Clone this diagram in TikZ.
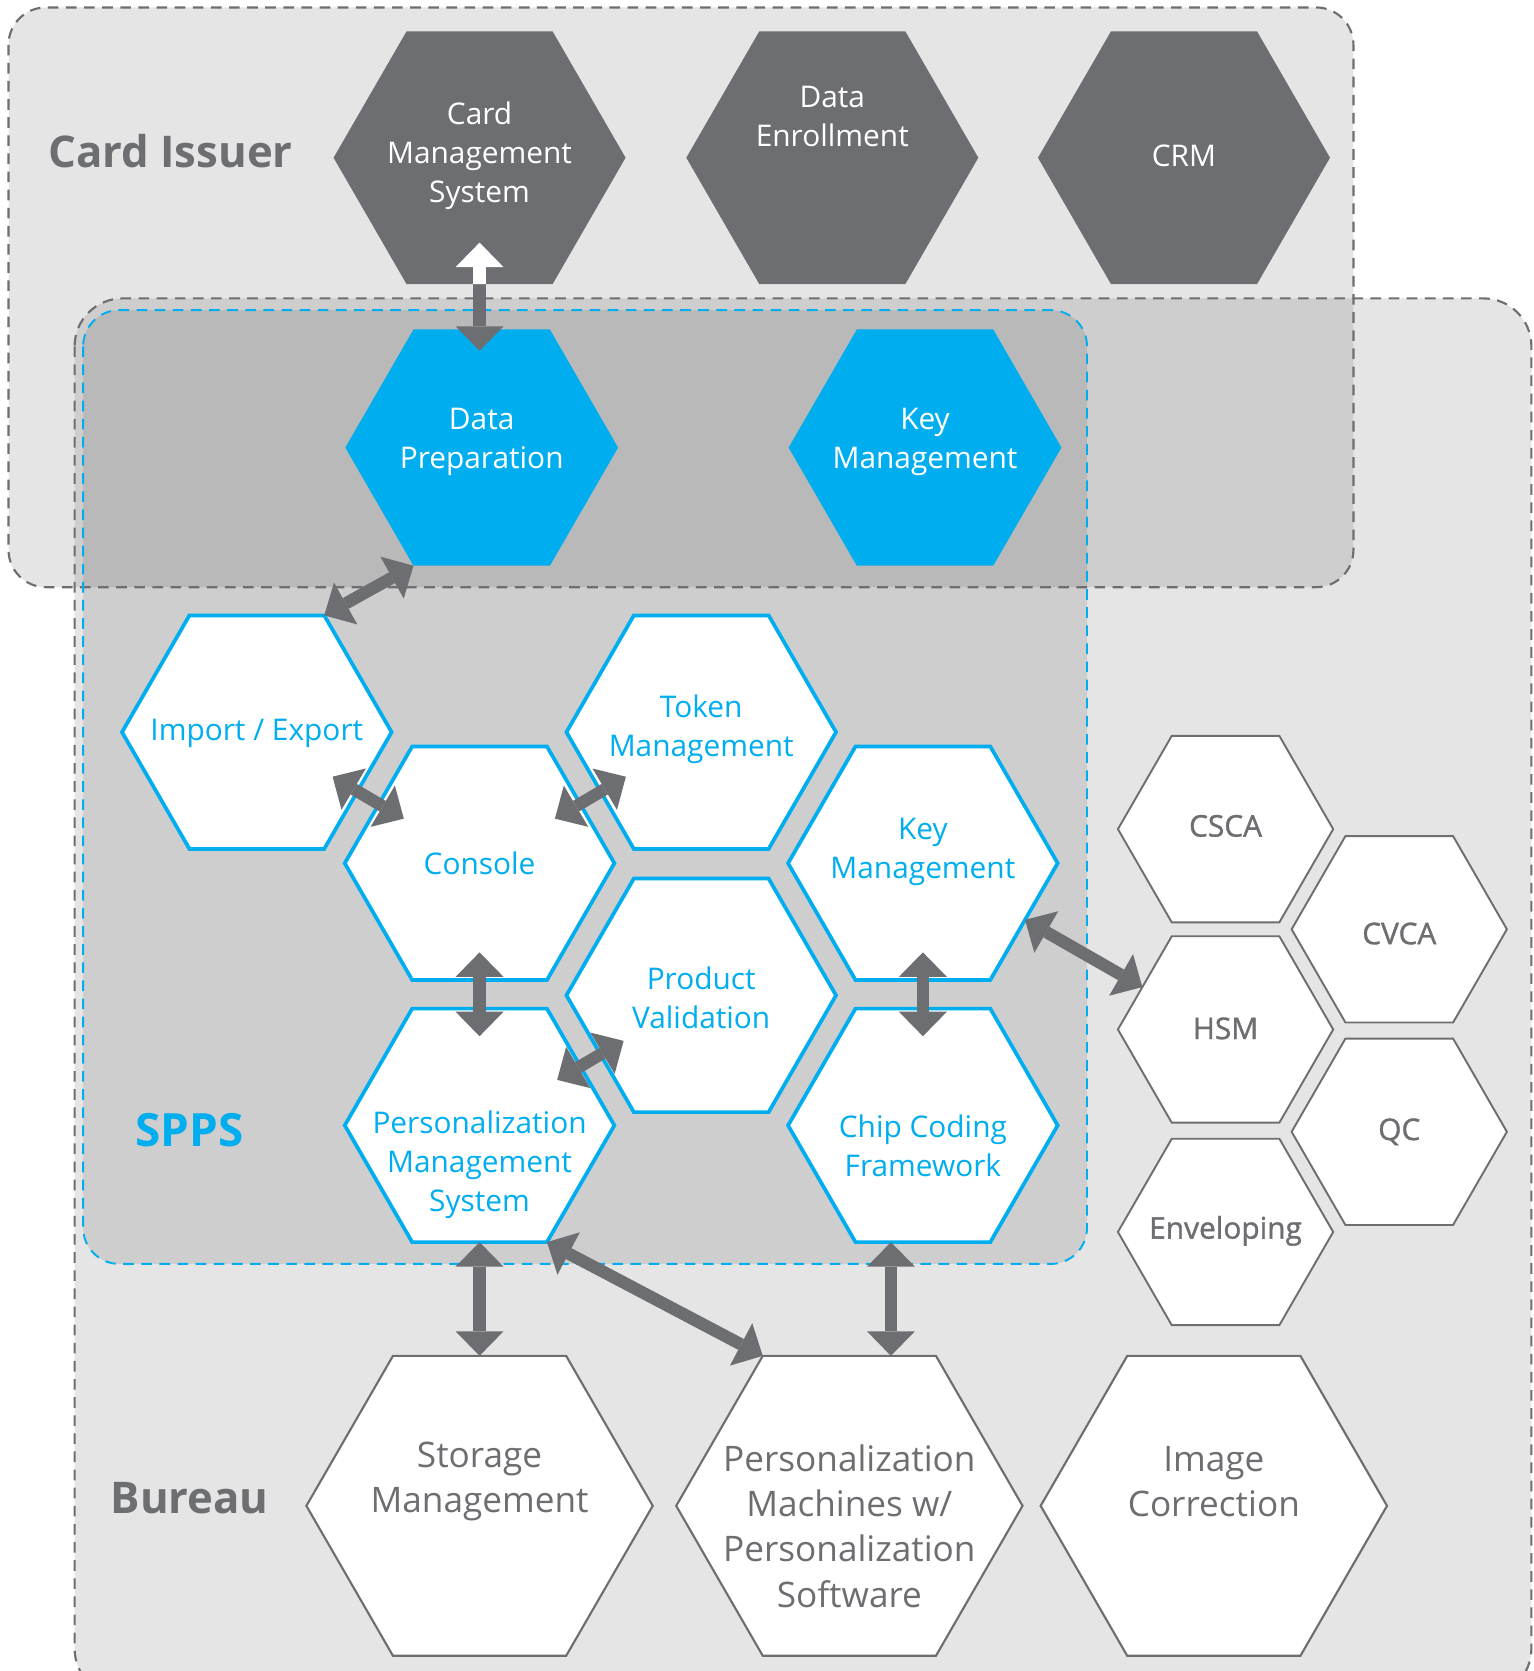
\documentclass[tikz,border=0pt]{standalone}
\usepackage{fontspec}
\setmainfont{Open Sans}
\newfontfamily\semifont[FakeBold=1.2]{Open Sans}
\usetikzlibrary{arrows.meta,shapes.geometric,calc}
\definecolor{hexgrey}{HTML}{6D6E71}
\definecolor{sppsblue}{HTML}{00AEEF}
\tikzset{
  hexbase/.style={regular polygon,regular polygon sides=6,inner sep=0pt,outer sep=0pt},
  issuerhex/.style={hexbase,fill=hexgrey,minimum size=274pt},
  prephex/.style={hexbase,fill=sppsblue,minimum size=256pt},
  sppshex/.style={hexbase,fill=white,draw=sppsblue,line width=3.5pt,minimum size=253pt},
  toolhex/.style={hexbase,fill=white,draw=hexgrey,line width=1.8pt,minimum size=202pt},
  bureauhex/.style={hexbase,fill=white,draw=hexgrey,line width=2pt,minimum size=325pt},
  hexlabel/.style={align=center,inner sep=0pt,font=\fontsize{28}{36.5}\selectfont},
  toollabel/.style={align=center,inner sep=0pt,text=hexgrey,font=\semifont\fontsize{28}{36}\selectfont},
  bureaulabel/.style={align=center,inner sep=0pt,text=hexgrey,font=\fontsize{33}{42.5}\selectfont},
  grouplabel/.style={inner sep=0pt,font=\bfseries\fontsize{41}{48}\selectfont},
  groupbox/.style={line width=2pt,dash pattern=on 10pt off 7pt},
  biarrow/.style={draw=hexgrey,line width=11.5pt,
    {Triangle[length=23pt,width=45pt,line width'=0pt]}-{Triangle[length=23pt,width=45pt,line width'=0pt]}}
}

\begin{document}
\begin{tikzpicture}[x=1pt,y=-1pt]
\useasboundingbox (0,0) rectangle (1439,1568);
\clip (0,0) rectangle (1439,1568);
% \draw[help lines] (0,0) grid (1439,1568);
\fill[black,fill opacity=0.1,rounded corners=35pt] (8,7) rectangle (1270,551);
\fill[black,fill opacity=0.1,rounded corners=45pt] (70,280) rectangle (1437,1592);
\fill[black,fill opacity=0.1,rounded corners=34pt] (78,291) rectangle (1020,1186);
\draw[groupbox,draw=hexgrey,rounded corners=35pt] (8,7) rectangle (1270,551);
\draw[groupbox,draw=hexgrey,rounded corners=45pt] (70,280) rectangle (1437,1592);
\draw[groupbox,draw=sppsblue,line width=1.8pt,rounded corners=34pt] (78,291) rectangle (1020,1186);
%
\node (issuer) [grouplabel,text=hexgrey] at (160,142) {Card Issuer};
\node (spps) [grouplabel,text=sppsblue,font=\bfseries\fontsize{43}{48}\selectfont] at (178,1060) {SPPS};
\node (bureau) [grouplabel,text=hexgrey] at (178,1406) {Bureau};
%
\node (cms) [issuerhex] at (450,148) {};
\node (enroll) [issuerhex] at (781,148) {};
\node (crm) [issuerhex] at (1111,148) {};
\node (prep) [prephex] at (452,420) {};
\node (keytop) [prephex] at (868,420) {};
%
\node (imp) [sppshex] at (241,687) {};
\node (token) [sppshex] at (658,687) {};
\node (console) [sppshex] at (450,810) {};
\node (keyspps) [sppshex] at (866,810) {};
\node (prodval) [sppshex] at (658,934) {};
\node (pms) [sppshex] at (450,1056) {};
\node (chip) [sppshex] at (866,1056) {};
%
\node (csca) [toolhex] at (1150,778) {};
\node (cvca) [toolhex] at (1313,872) {};
\node (hsm) [toolhex] at (1150,966) {};
\node (qc) [toolhex] at (1313,1062) {};
\node (envel) [toolhex] at (1150,1156) {};
%
\node (storage) [bureauhex] at (450,1413) {};
\node (persm) [bureauhex] at (797,1413) {};
\node (imagec) [bureauhex] at (1139,1413) {};
%
\node (cmsT) [hexlabel,text=white] at (450,146) {Card\\Management\\System};
\node (enrollT) [hexlabel,text=white] at (781,109) {Data\\Enrollment};
\node (crmT) [hexlabel,text=white] at (1111,146) {CRM};
\node (prepT) [hexlabel,text=white] at (452,415) {Data\\Preparation};
\node (keytopT) [hexlabel,text=white] at (868,415) {Key\\Management};
\node (impT) [hexlabel,text=sppsblue] at (241,688) {Import / Export};
\node (tokenT) [hexlabel,text=sppsblue] at (658,684) {Token\\Management};
\node (consoleT) [hexlabel,text=sppsblue] at (450,810) {Console};
\node (keysppsT) [hexlabel,text=sppsblue] at (866,799) {Key\\Management};
\node (prodvalT) [hexlabel,text=sppsblue] at (658,936) {Product\\Validation};
\node (pmsT) [hexlabel,text=sppsblue] at (450,1093) {Personalization\\Management\\System};
\node (chipT) [hexlabel,text=sppsblue] at (866,1075) {Chip Coding\\Framework};
\node (cscaT) [toollabel] at (1150,775) {CSCA};
\node (cvcaT) [toollabel] at (1313,876) {CVCA};
\node (hsmT) [toollabel] at (1150,965) {HSM};
\node (qcT) [toollabel] at (1313,1062) {QC};
\node (envelT) [toollabel] at (1150,1155) {Enveloping};
\node (storageT) [bureaulabel] at (450,1390) {Storage\\Management};
\node (persmT) [bureaulabel] at (797,1432) {Personalization\\Machines w/\\Personalization\\Software};
\node (imagecT) [bureaulabel] at (1139,1390) {Image\\Correction};
%
\draw[biarrow] ([yshift=39pt]cms.south) -- ([yshift=-20pt]cms.south |- prep.north);
\begin{scope}
\clip (cms.0) -- (cms.60) -- (cms.120) -- (cms.180) -- (cms.240) -- (cms.300) -- cycle;
\draw[biarrow,draw=white] ([yshift=39pt]cms.south) -- ([yshift=-20pt]cms.south |- prep.north);
\end{scope}
\draw[biarrow] (prep.240) -- (imp.60);
\draw[biarrow] ($(imp)!0.34!(console)$) -- ($(imp)!0.66!(console)$);
\draw[biarrow] ($(console)!0.34!(token)$) -- ($(console)!0.66!(token)$);
\draw[biarrow] ($(console)!0.34!(pms)$) -- ($(console)!0.66!(pms)$);
\draw[biarrow] ($(keyspps)!0.34!(chip)$) -- ($(keyspps)!0.66!(chip)$);
\draw[biarrow] ($(pms)!0.35!(prodval)$) -- ($(pms)!0.65!(prodval)$);
\draw[biarrow] (keyspps.-29) -- (hsm.153);
\draw[biarrow] (pms.south) -- (storage.north);
\draw[biarrow] (pms.300) -- (persm.120);
\draw[biarrow] ([xshift=-30pt]chip.south) -- ([xshift=-30pt]chip.south |- persm.north);
\end{tikzpicture}
\end{document}
